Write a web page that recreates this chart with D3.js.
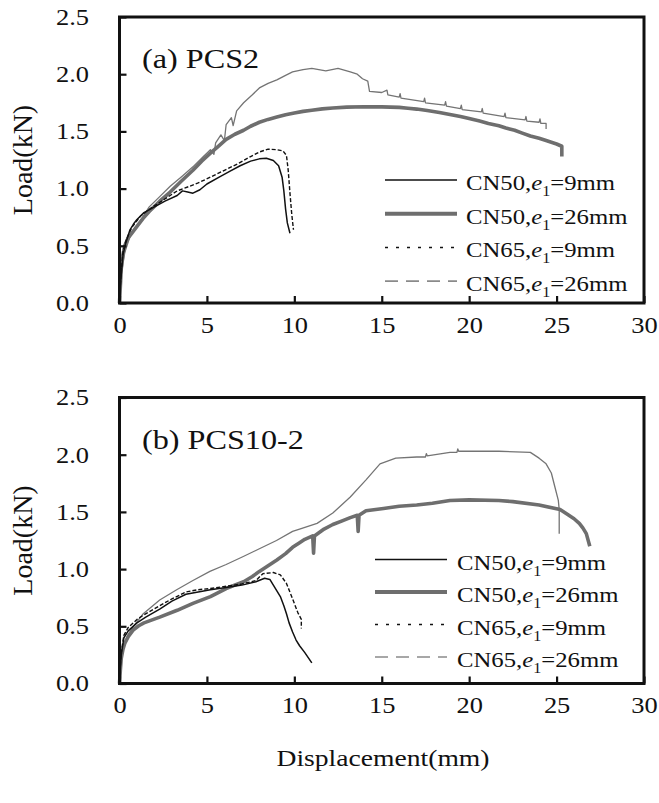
<!DOCTYPE html>
<html>
<head>
<meta charset="utf-8">
<script src="https://cdn.jsdelivr.net/npm/d3@7"></script>
<style>
    body { margin: 0; background: #fff; }
    svg { display: block; }
    text { font-family: "Liberation Serif", "Times New Roman", serif; fill: #111; }
</style>
</head>
<body>
<div class="chart"></div>
<script>
// Load - displacement curves (displacement mm, load kN)

// (a) PCS2
var pcs2_CN50_9 = [[0,0],[0.05,0.14],[0.1,0.25],[0.2,0.42],[0.35,0.52],[0.6,0.64],[0.8,0.69],[1.0,0.73],[1.4,0.79],[2.0,0.84],[2.6,0.89],[3.3,0.94],[3.6,0.98],[3.9,0.97],[4.2,0.96],[4.6,0.99],[5.0,1.04],[5.7,1.10],[6.3,1.15],[6.9,1.20],[7.5,1.24],[8.0,1.26],[8.4,1.265],[8.8,1.245],[9.1,1.20],[9.3,1.10],[9.4,0.98],[9.5,0.82],[9.6,0.70],[9.75,0.61]];
var pcs2_CN50_26 = [[0,0],[0.05,0.15],[0.1,0.3],[0.18,0.41],[0.3,0.5],[0.5,0.57],[0.75,0.62],[1.0,0.67],[1.35,0.74],[1.7,0.8],[2.3,0.89],[2.9,0.97],[3.5,1.06],[4.2,1.16],[4.7,1.24],[5.2,1.31],[5.65,1.37],[6.1,1.43],[6.6,1.475],[7.1,1.51],[7.5,1.545],[8.0,1.58],[8.5,1.605],[9.0,1.625],[9.5,1.645],[10.0,1.66],[10.5,1.675],[11.0,1.685],[11.6,1.697],[12.2,1.705],[13.0,1.712],[14.0,1.715],[15.0,1.714],[16.0,1.71],[16.5,1.703],[17.0,1.695],[17.6,1.682],[18.3,1.665],[18.9,1.648],[19.5,1.63],[20.0,1.612],[20.6,1.59],[21.1,1.57],[21.7,1.55],[22.1,1.53],[22.6,1.51],[23.0,1.487],[23.5,1.46],[24.0,1.44],[24.4,1.42],[24.7,1.405],[25.0,1.39],[25.3,1.37],[25.3,1.28]];
var pcs2_CN65_9 = [[0,0],[0.05,0.16],[0.1,0.28],[0.2,0.45],[0.4,0.56],[0.7,0.66],[1.2,0.76],[1.8,0.83],[2.5,0.9],[3.3,0.98],[4.0,1.02],[4.5,1.05],[5.2,1.10],[6.0,1.16],[6.8,1.22],[7.5,1.28],[8.0,1.32],[8.5,1.345],[9.0,1.34],[9.35,1.33],[9.55,1.29],[9.65,1.16],[9.75,0.96],[9.85,0.78],[9.95,0.64]];
var pcs2_CN65_26 = [[0,0],[0.05,0.13],[0.1,0.25],[0.3,0.44],[0.6,0.58],[1.0,0.67],[1.7,0.84],[2.3,0.93],[2.9,1.02],[3.6,1.11],[4.2,1.19],[4.8,1.28],[5.2,1.34],[5.4,1.30],[5.5,1.40],[5.8,1.47],[6.0,1.42],[6.1,1.56],[6.4,1.62],[6.5,1.55],[6.7,1.68],[7.1,1.75],[7.6,1.82],[8.0,1.88],[8.5,1.92],[9.0,1.95],[9.5,1.99],[9.9,2.02],[10.5,2.04],[11.0,2.05],[11.8,2.03],[12.5,2.05],[13.2,2.02],[13.6,2.0],[13.9,1.96],[14.2,1.94],[14.3,1.85],[15.0,1.84],[15.3,1.86],[15.35,1.82],[16.0,1.80],[16.05,1.83],[16.1,1.79],[17.4,1.76],[17.45,1.79],[17.5,1.75],[18.6,1.73],[18.65,1.76],[18.7,1.72],[19.5,1.70],[19.55,1.73],[19.6,1.69],[20.7,1.67],[20.75,1.70],[20.8,1.66],[22.0,1.63],[22.05,1.66],[22.1,1.62],[23.2,1.60],[23.25,1.63],[23.3,1.59],[24.0,1.58],[24.05,1.61],[24.1,1.57],[24.4,1.57],[24.4,1.52]];

// (b) PCS10-2
var pcs10_CN50_9 = [[0,0],[0.05,0.14],[0.1,0.25],[0.25,0.40],[0.5,0.46],[1.0,0.53],[1.5,0.58],[2.3,0.65],[3.0,0.72],[3.8,0.78],[4.5,0.80],[5.2,0.82],[6.1,0.84],[7.0,0.86],[7.8,0.89],[8.3,0.92],[8.6,0.91],[8.8,0.86],[9.0,0.81],[9.2,0.76],[9.4,0.68],[9.55,0.61],[9.7,0.53],[9.9,0.45],[10.1,0.38],[10.3,0.33],[10.6,0.27],[11.0,0.18]];
var pcs10_CN50_26 = [[0,0],[0.05,0.12],[0.1,0.22],[0.2,0.3],[0.3,0.35],[0.5,0.41],[0.8,0.47],[1.1,0.505],[1.4,0.53],[2.3,0.58],[3.3,0.64],[4.2,0.70],[5.2,0.76],[6.1,0.83],[7.1,0.89],[7.6,0.935],[8.0,0.98],[8.5,1.03],[9.0,1.08],[9.5,1.135],[9.9,1.19],[10.3,1.23],[10.6,1.26],[11.05,1.29],[11.1,1.14],[11.15,1.29],[11.7,1.35],[12.2,1.39],[12.7,1.42],[13.2,1.45],[13.6,1.47],[13.65,1.33],[13.7,1.47],[14.1,1.51],[15.1,1.53],[16.0,1.55],[17.0,1.56],[17.9,1.575],[18.9,1.60],[20.0,1.605],[21.7,1.60],[22.5,1.59],[24.0,1.56],[25.2,1.52],[25.7,1.47],[26.0,1.44],[26.3,1.40],[26.5,1.36],[26.7,1.31],[26.9,1.20]];
var pcs10_CN65_9 = [[0,0],[0.05,0.15],[0.1,0.27],[0.25,0.42],[0.5,0.49],[1.0,0.56],[1.4,0.6],[2.3,0.68],[3.0,0.74],[3.8,0.80],[4.5,0.82],[5.2,0.83],[6.1,0.85],[7.0,0.87],[7.8,0.90],[8.2,0.96],[8.8,0.97],[9.2,0.95],[9.55,0.875],[9.9,0.74],[10.2,0.62],[10.4,0.56],[10.4,0.48]];
var pcs10_CN65_26 = [[0,0],[0.05,0.11],[0.1,0.2],[0.2,0.32],[0.5,0.43],[0.8,0.5],[1.36,0.61],[2.3,0.73],[3.27,0.82],[4.2,0.90],[5.17,0.98],[6.1,1.04],[7.08,1.11],[8.03,1.18],[8.98,1.25],[9.9,1.33],[10.3,1.35],[11.3,1.40],[12.2,1.49],[13.2,1.63],[14.1,1.78],[14.9,1.92],[15.8,1.97],[17.0,1.98],[17.5,1.98],[17.55,2.01],[17.6,1.99],[18.9,2.02],[19.3,2.02],[19.35,2.05],[19.4,2.03],[21.7,2.03],[23.5,2.02],[24.0,1.97],[24.4,1.92],[24.7,1.84],[24.9,1.72],[25.1,1.60],[25.15,1.52],[25.15,1.31]];

var panelTitles = ["(a) PCS2", "(b) PCS10-2"];
var legendNail = ["CN50", "CN50", "CN65", "CN65"];
var legendE1 = ["9mm", "26mm", "9mm", "26mm"];
var xTicks = [0, 5, 10, 15, 20, 25, 30];
var yTicks = [0, 0.5, 1.0, 1.5, 2.0, 2.5];

// Set-up the plot dimensions

var svgWidth = 659;
var svgHeight = 803;
var stretch = 1.15;   // the figure is slightly wider than tall, text too

var left = 119.5, right = 644;

var panels = [
    { top: 17, bottom: 303, series: [pcs2_CN65_26, pcs2_CN50_26, pcs2_CN65_9, pcs2_CN50_9],
      legX1: 385, legX2: 457, legText: 466, legY: 180, legStep: 33.7 },
    { top: 397.5, bottom: 683.5, series: [pcs10_CN65_26, pcs10_CN50_26, pcs10_CN65_9, pcs10_CN50_9],
      legX1: 375, legX2: 447, legText: 457, legY: 559.5, legStep: 32.5 }
];

// line styles, in drawing order: CN65 e1=26, CN50 e1=26, CN65 e1=9, CN50 e1=9
var curveStyle = [
    { color: "#747474", width: 1.3, dash: null },
    { color: "#6e6e6e", width: 3.6, dash: null },
    { color: "#111", width: 1.4, dash: "4,2" },
    { color: "#111", width: 1.5, dash: null }
];

// legend order: CN50 e1=9, CN50 e1=26, CN65 e1=9, CN65 e1=26
var legendStyle = [
    { color: "#111", width: 1.5, dash: null },
    { color: "#6e6e6e", width: 4, dash: null },
    { color: "#111", width: 1.5, dash: "3,8" },
    { color: "#8a8a8a", width: 1.6, dash: "13,8" }
];

var svg = d3.select(".chart")
    .append("svg")
    .attr("width", svgWidth)
    .attr("height", svgHeight);

var xScale = d3.scaleLinear().domain([0, 30]).range([left, right]);

panels.forEach(function(p, i) {

    var yScale = d3.scaleLinear().domain([0, 2.5]).range([p.bottom, p.top]);

    var g = svg.append("g");

    // curves
    var line = d3.line()
        .x(function(d) { return xScale(d[0]); })
        .y(function(d) { return yScale(d[1]); });

    p.series.forEach(function(s, k) {
        g.append("path")
            .datum(s)
            .attr("d", line)
            .attr("fill", "none")
            .attr("stroke", curveStyle[k].color)
            .attr("stroke-width", curveStyle[k].width)
            .attr("stroke-linejoin", "round")
            .attr("stroke-dasharray", curveStyle[k].dash);
    });

    // axes, ticks pointing inwards
    var bottomAxis = d3.axisBottom(xScale)
        .tickValues(xTicks)
        .tickFormat(d3.format("d"))
        .tickSizeInner(-7)
        .tickSizeOuter(0)
        .tickPadding(13.5);

    var leftAxis = d3.axisLeft(yScale)
        .tickValues(yTicks)
        .tickFormat(d3.format(".1f"))
        .tickSizeInner(-7)
        .tickSizeOuter(0)
        .tickPadding(26.5);

    var xa = g.append("g")
        .attr("transform", "translate(0," + p.bottom + ")")
        .call(bottomAxis);

    var ya = g.append("g")
        .attr("transform", "translate(" + left + ",0)")
        .call(leftAxis);

    [xa, ya].forEach(function(a) {
        a.select(".domain").remove();
        a.selectAll(".tick line").attr("stroke", "#111").attr("stroke-width", 2.2);
        a.selectAll(".tick text")
            .attr("fill", "#111")
            .style("font-size", "23px")
            .style("font-family", "'Liberation Serif', serif")
            .attr("transform", "scale(" + stretch + ",1)");
    });

    // frame
    g.append("rect")
        .attr("x", left)
        .attr("y", p.top)
        .attr("width", right - left)
        .attr("height", p.bottom - p.top)
        .attr("fill", "none")
        .attr("stroke", "#111")
        .attr("stroke-width", 3);

    // panel title
    g.append("text")
        .attr("transform", "translate(142," + (p.top + 51) + ") scale(" + stretch + ",1)")
        .style("font-size", "28px")
        .text(panelTitles[i]);

    // y label
    g.append("text")
        .attr("transform", "translate(32," + ((p.top + p.bottom) / 2) + ") rotate(-90)")
        .attr("text-anchor", "middle")
        .style("font-size", "28px")
        .text("Load(kN)");

    // legend
    legendNail.forEach(function(n, k) {
        var ly = p.legY + k * p.legStep;
        g.append("line")
            .attr("x1", p.legX1)
            .attr("x2", p.legX2)
            .attr("y1", ly)
            .attr("y2", ly)
            .attr("stroke", legendStyle[k].color)
            .attr("stroke-width", legendStyle[k].width)
            .attr("stroke-dasharray", legendStyle[k].dash);

        var t = g.append("text")
            .attr("transform", "translate(" + p.legText + "," + (ly + 10) + ") scale(" + stretch + ",1)")
            .style("font-size", "21.5px");
        t.append("tspan").text(n + ",");
        t.append("tspan").style("font-style", "italic").text("e");
        t.append("tspan").attr("dy", 6).style("font-size", "14px").text("1");
        t.append("tspan").attr("dy", -6).text("=" + legendE1[k]);
    });
});

// x label
svg.append("text")
    .attr("transform", "translate(383,766) scale(" + stretch + ",1)")
    .attr("text-anchor", "middle")
    .style("font-size", "24px")
    .text("Displacement(mm)");
</script>
</body>
</html>
